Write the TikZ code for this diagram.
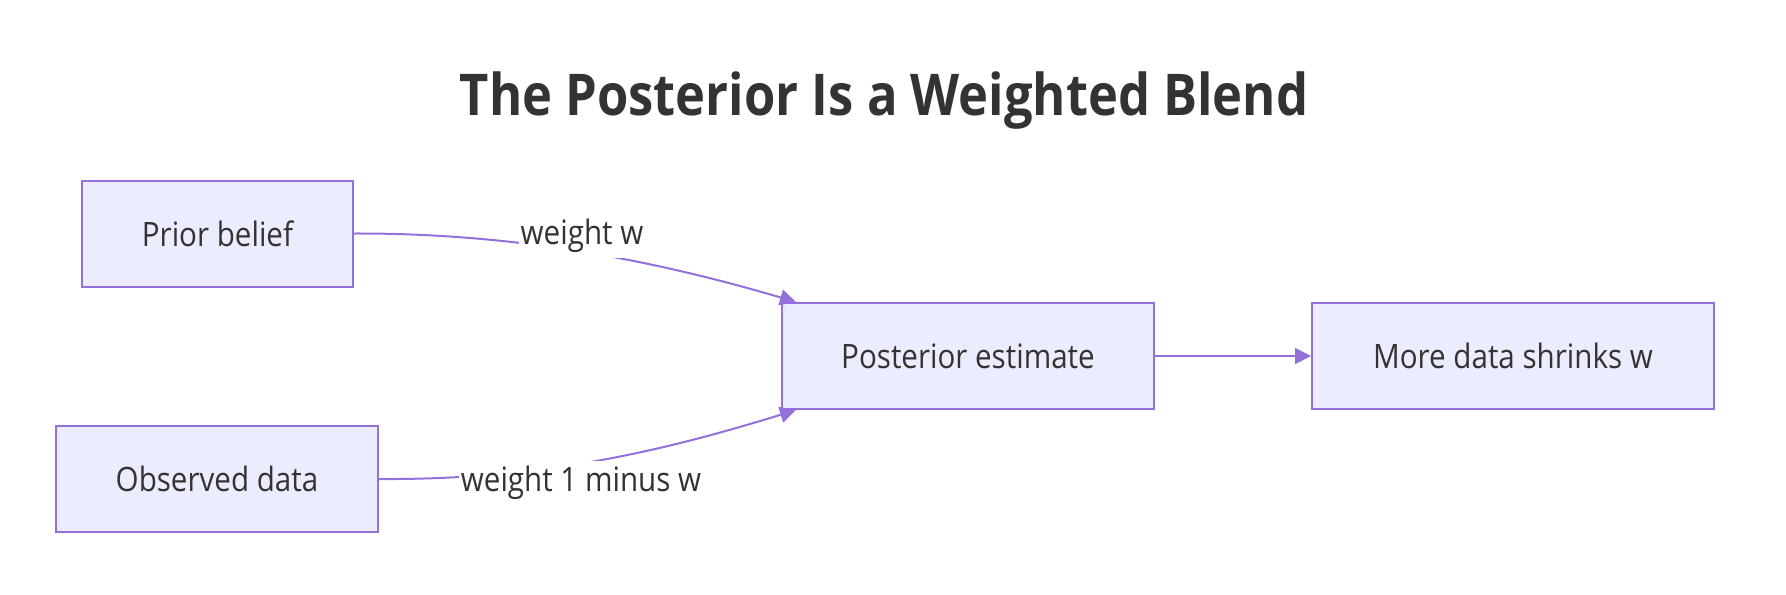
\documentclass[tikz,border=0pt]{standalone}
\usepackage{fontspec}
\setmainfont[FakeStretch=0.88]{Open Sans}
\usetikzlibrary{arrows.meta}
\definecolor{nodefill}{HTML}{ECECFF}
\definecolor{nodeline}{HTML}{9370DB}
\definecolor{txt}{HTML}{333333}
\tikzset{
  box/.style={draw=nodeline, fill=nodefill, line width=1pt, text=txt, font=\fontsize{16.8pt}{20pt}\selectfont, inner sep=0pt, minimum height=53pt},
  edge/.style={draw=nodeline, line width=1pt, -{Triangle[length=8pt,width=8pt]}},
  lbl/.style={fill=white, text=txt, font=\fontsize{16.8pt}{20pt}\selectfont, inner xsep=1pt, inner ysep=0pt, minimum height=22pt},
}
\begin{document}
\begin{tikzpicture}[x=0.5pt,y=-0.5pt]
\useasboundingbox (0,0) rectangle (1786,594);
\node[anchor=base, text=txt, font=\fontsize{28.8pt}{34pt}\selectfont\bfseries] (title) at (884,115) {The Posterior Is a Weighted Blend};
\node[box, minimum width=135.5pt] (prior) at (217.5,233.5) {Prior belief};
\node[box, minimum width=161pt] (obs) at (217,479) {Observed data};
\node[box, minimum width=186pt] (post) at (968,356) {Posterior estimate};
\node[box, minimum width=201pt] (more) at (1513,356) {More data shrinks w};
\draw[edge] (prior.east) .. controls (520,233) and (660,262) .. ([xshift=7.5pt]post.north west);
\draw[edge] (obs.east) .. controls (540,480) and (660,452) .. ([xshift=7.5pt]post.south west);
\draw[edge] (post.east) -- (more.west);
\node[lbl] (lw) at (582,236) {weight w};
\node[lbl] (lo) at (581,483) {weight 1 minus w};
\end{tikzpicture}
\end{document}
